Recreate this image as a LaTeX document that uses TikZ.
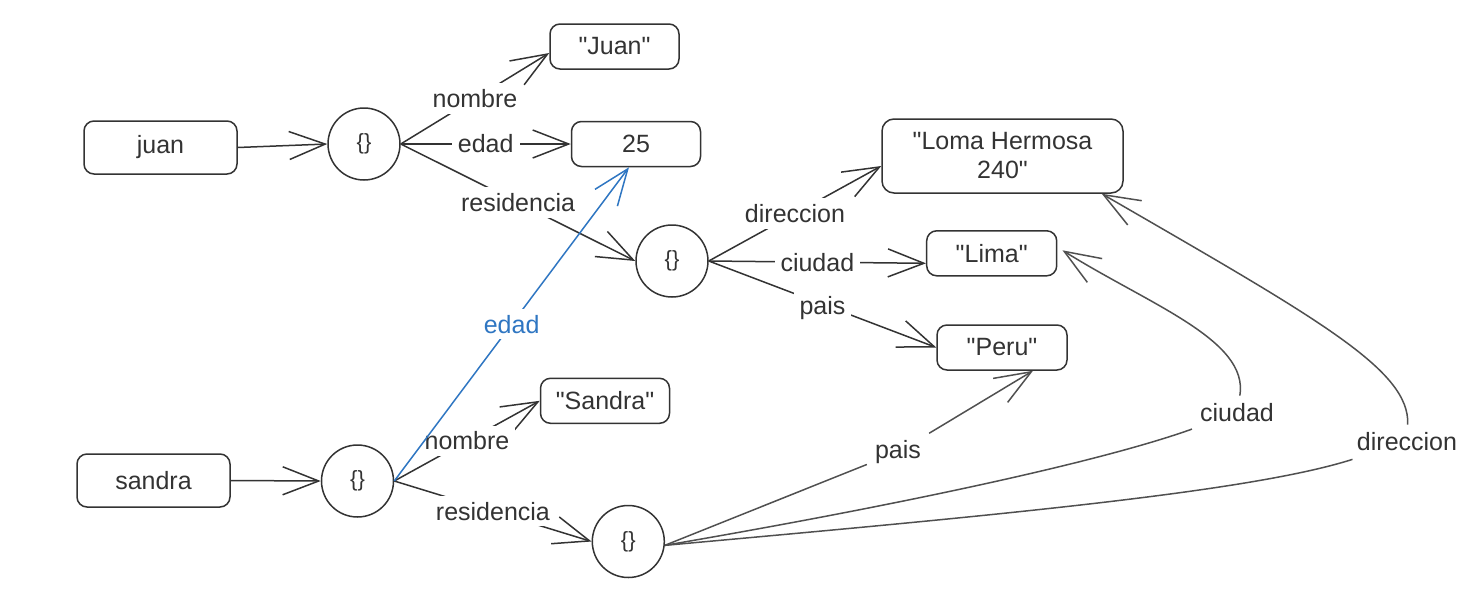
\documentclass[tikz,border=0pt]{standalone}
\usepackage{fontspec}
\setmainfont{Liberation Sans}[Ligatures=TeXOff]
\usetikzlibrary{arrows.meta,calc}
\definecolor{ink}{HTML}{333333}
\definecolor{inkb}{HTML}{505050}
\definecolor{blu}{HTML}{2F76C2}
\begin{document}
\begin{tikzpicture}[x=1pt,y=-1pt,
  box/.style={draw=ink, line width=1.5pt, rounded corners=10pt, text=ink,
    font=\fontsize{25}{29}\selectfont, minimum width=129pt, minimum height=45pt, inner sep=0pt},
  circ/.style={circle, draw=ink, line width=1.5pt, minimum size=72pt, inner sep=0pt,
    text=ink, font=\fontsize{22}{26}\selectfont},
  edge/.style={draw=ink, line width=1.5pt, -{Straight Barb[length=36pt,width=28pt]}},
  lbl/.style={fill=white, text=ink, font=\fontsize{25}{29}\selectfont, inner sep=6pt},
  wlbl/.style={lbl, inner sep=8pt}
]
\useasboundingbox (0,0) rectangle (1469,592);

% value and object nodes
\node[box, minimum width=153pt, minimum height=53pt] (juan) at (160.5,147.5) {juan};
\node[circ] (c1) at (364,144) {\{\}};
\node[box] (vjuan) at (614.5,46.5) {"Juan"};
\node[box] (v25) at (636,144) {25};
\node[circ] (c2) at (672,261) {\{\}};
\node[box, minimum width=241pt, minimum height=74pt, rounded corners=12pt, align=center] (loma) at (1002.5,156) {"Loma Hermosa\\240"};
\node[box, minimum width=130pt] (lima) at (991.7,253.3) {"Lima"};
\node[box, minimum width=130pt] (peru) at (1002,347.5) {"Peru"};
\node[box, minimum width=153pt, minimum height=53pt] (sandra) at (153.5,480.5) {sandra};
\node[circ] (c3) at (357.5,481) {\{\}};
\node[box] (vsandra) at (605,400.8) {"Sandra"};
\node[circ] (c4) at (628.3,541.5) {\{\}};

% free labels of the bent connectors
\node[wlbl] (lpais) at (898,452) {pais};
\node[wlbl] (lciudad) at (1237,413) {ciudad};
\node[wlbl] (ldir) at (1407,442) {direccion};

% connector end points
\coordinate (tjuan) at ($(vjuan.west)+(0,6.5)$);
\coordinate (tloma) at ($(loma.west)+(0,10)$);
\coordinate (tlima) at ($(lima.west)+(0,10)$);
\coordinate (t25) at ($(v25.south)+(-7,0)$);
\coordinate (tperub) at ($(peru.south)+(31,0)$);
\coordinate (tlimar) at ($(lima.east)+(5,-3)$);
\coordinate (tlomab) at ($(loma.south east)+(-22,0)$);
\coordinate (o4) at (c4.-6);

% connectors
\draw[edge] (juan.east) -- (c1.west);
\draw[edge] (c1.east) -- node[lbl]{nombre} (tjuan);
\draw[edge] (c1.east) -- node[lbl]{edad} (v25.west);
\draw[edge] (c1.east) -- node[lbl]{residencia} (c2.west);
\draw[edge] (c2.east) -- node[lbl]{direccion} (tloma);
\draw[edge] (c2.east) -- node[lbl]{ciudad} (tlima);
\draw[edge] (c2.east) -- node[lbl, yshift=-4pt]{pais} (peru.west);
\draw[edge] (sandra.east) -- (c3.west);
\draw[edge] (c3.east) -- node[lbl]{nombre} (vsandra.west);
\draw[edge] (c3.east) -- node[lbl]{residencia} (c4.west);
\draw[edge, draw=blu] (c3.east) -- node[lbl, text=blu]{edad} (t25);

\draw[edge, draw=inkb] (o4) -- (lpais) -- (tperub);
\draw[edge, draw=inkb] (o4) .. controls (900,505) and (1100,462) .. (lciudad)
  .. controls (1249,340) and (1150,305) .. (tlimar);
\draw[edge, draw=inkb] (o4) .. controls (1000,515) and (1250,492) .. (ldir)
  .. controls (1410,370) and (1320,320) .. (tlomab);
\end{tikzpicture}
\end{document}
